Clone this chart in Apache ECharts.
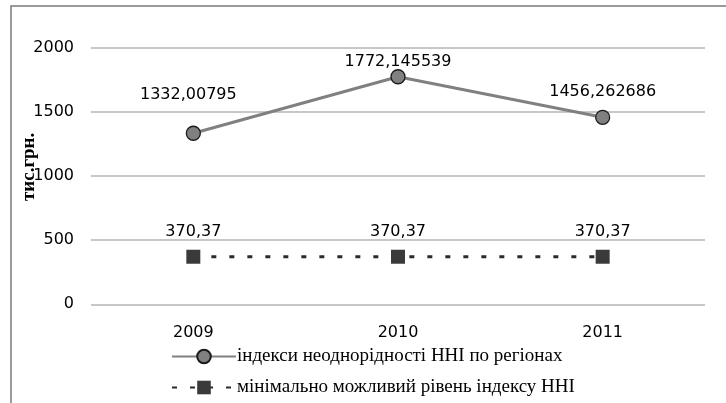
<!DOCTYPE html>
<html>
<head>
<meta charset="utf-8">
<script src="https://cdn.jsdelivr.net/npm/echarts@6/dist/echarts.min.js"></script>
<style>
  html, body { margin: 0; padding: 0; background: #fff; }
  #chart { width: 726px; height: 403px; }
</style>
</head>
<body>
<div id="chart"></div>
<script>
const years = ["2009", "2010", "2011"];
const hhiByRegion = [1332.00795, 1772.145539, 1456.262686];
const hhiLabels = ["1332,00795", "1772,145539", "1456,262686"];
const hhiMinimum = [370.37, 370.37, 370.37];
const minLabels = ["370,37", "370,37", "370,37"];
// label offsets as placed in the original
const hhiLabelOffsets = [[-5, -38], [0, -15], [0, -25]];

const seriesNames = [
  "індекси неоднорідності ННІ по регіонах",
  "мінімально можливий рівень індексу ННІ",
];

const chart = echarts.init(document.getElementById("chart"));

const labelFont = { fontFamily: "DejaVu Sans", fontSize: 16, color: "#000" };

function legendRow(name, top) {
  return {
    orient: "horizontal",
    left: 171,
    top: top,
    padding: 0,
    itemWidth: 64,
    itemHeight: 17,
    textStyle: { fontFamily: "Liberation Serif", fontSize: 19, color: "#000", padding: [0, 0, 0, -4] },
    data: [name],
  };
}

chart.setOption({
  animation: false,
  backgroundColor: "#fff",
  graphic: [
    {
      type: "rect",
      shape: { x: 11, y: 6, width: 800, height: 500 },
      style: { fill: "none", stroke: "#7a7a7a", lineWidth: 1.5 },
      silent: true,
    },
  ],
  grid: { left: 91, right: 21, top: 47.5, bottom: 98.7, outerBoundsMode: "none" },
  legend: [legendRow(seriesNames[0], 347), legendRow(seriesNames[1], 378)],
  xAxis: {
    type: "category",
    data: years,
    boundaryGap: true,
    axisLine: { show: false },
    axisTick: { show: false },
    axisLabel: { ...labelFont, margin: 21 },
  },
  yAxis: {
    type: "value",
    min: 0,
    max: 2000,
    interval: 500,
    name: "тис.грн.",
    nameLocation: "middle",
    nameRotate: 90,
    nameGap: 52,
    nameMoveOverlap: false,
    nameTextStyle: {
      fontFamily: "Liberation Serif", fontWeight: "bold", fontSize: 19, color: "#000",
      padding: [0, 0, 0, 18],
    },
    axisLine: { show: false },
    axisTick: { show: false },
    axisLabel: { ...labelFont, margin: 17, formatter: (v) => String(v) },
    splitLine: { lineStyle: { color: "#b4b4b4", width: 1.5 } },
  },
  series: [
    {
      name: seriesNames[0],
      type: "line",
      data: hhiByRegion.map((v, i) => ({
        value: v,
        label: { offset: hhiLabelOffsets[i], formatter: hhiLabels[i] },
      })),
      symbol: "circle",
      symbolSize: 14,
      lineStyle: { color: "#808080", width: 3 },
      itemStyle: { color: "#808080", borderColor: "#1a1a1a", borderWidth: 1.3 },
      label: { show: true, position: "inside", ...labelFont },
      z: 3,
    },
    {
      name: seriesNames[1],
      type: "line",
      data: hhiMinimum.map((v, i) => ({
        value: v,
        label: { offset: [0, -25], formatter: minLabels[i] },
      })),
      symbol: "rect",
      symbolSize: 14,
      lineStyle: { color: "#2a2a2a", width: 3, type: [5, 13] },
      itemStyle: { color: "#3a3a3a", borderColor: "#3a3a3a", borderWidth: 0 },
      label: { show: true, position: "inside", ...labelFont },
      z: 3,
    },
  ],
});
</script>
</body>
</html>
